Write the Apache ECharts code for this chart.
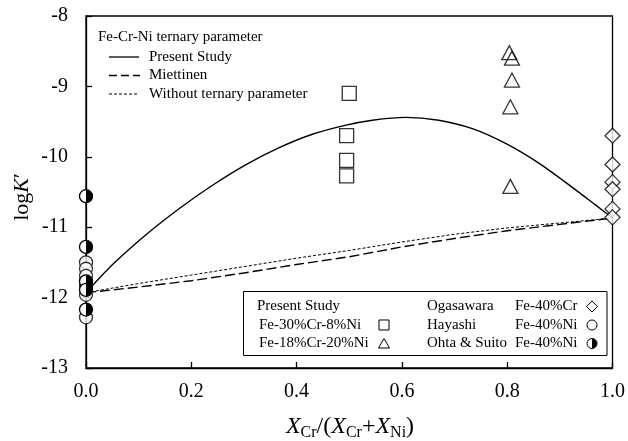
<!DOCTYPE html>
<html><head><meta charset="utf-8">
<script src="https://cdn.jsdelivr.net/npm/echarts@6/dist/echarts.min.js"></script>
<style>html,body{margin:0;padding:0;background:#fff}#c{width:628px;height:441px}</style>
</head><body><div id="c"></div>
<script>
// Curves
const curveX = [0.0, 0.052, 0.115, 0.178, 0.241, 0.304, 0.367, 0.430, 0.494, 0.544, 0.607, 0.670, 0.734, 0.797, 0.860, 0.923, 0.967, 1.0];
const presentY = [-11.93, -11.52, -11.10, -10.73, -10.40, -10.11, -9.87, -9.68, -9.55, -9.48, -9.44, -9.48, -9.60, -9.81, -10.09, -10.43, -10.68, -10.87];
const lineX = [0.0, 0.1, 0.2, 0.3, 0.4, 0.5, 0.6, 0.7, 0.8, 0.9, 1.0];
const miettinenY = [-11.93, -11.85, -11.76, -11.65, -11.53, -11.42, -11.28, -11.16, -11.05, -10.96, -10.87];
const withoutY = [-11.93, -11.80, -11.68, -11.56, -11.44, -11.33, -11.21, -11.10, -11.01, -10.94, -10.87];
// Scatter data
const sqX = [0.500, 0.495, 0.495, 0.495];
const sqY = [-9.10, -9.70, -10.05, -10.27];
const triX = [0.804, 0.809, 0.809, 0.806, 0.806];
const triY = [-8.52, -8.60, -8.91, -9.29, -10.42];
const diaX = [1.0, 1.0, 1.0, 1.0, 1.0, 1.0];
const diaY = [-9.70, -10.11, -10.36, -10.46, -10.74, -10.86];
const hayX = [0, 0, 0, 0, 0, 0];
const hayY = [-11.50, -11.59, -11.69, -11.83, -11.96, -12.28];
const ohtaX = [0, 0, 0, 0, 0];
const ohtaY = [-10.56, -11.28, -11.77, -11.89, -12.17];
// Axis ticks
const xTicks = ['0.0', '0.2', '0.4', '0.6', '0.8', '1.0'];
const yTicks = ['-13', '-12', '-11', '-10', '-9', '-8'];

const zip = (a, b) => a.map((v, i) => [v, b[i]]);
const F = 'Liberation Serif, Times New Roman, serif';
const mk = {color: '#fff', borderColor: '#000', borderWidth: 1.3};

const chart = echarts.init(document.getElementById('c'), null, {renderer: 'canvas'});
const lg = [];
const txt = (x, y, s, align) => ({type: 'text', x: x, y: y, style: {text: s, font: '15px ' + F, fill: '#000', textAlign: align || 'left', textVerticalAlign: 'middle'}});
lg.push(txt(98, 37, 'Fe-Cr-Ni ternary parameter'));
lg.push({type: 'line', shape: {x1: 109, y1: 57, x2: 139, y2: 57}, style: {stroke: '#000', lineWidth: 1.3}});
lg.push({type: 'line', shape: {x1: 109, y1: 75.5, x2: 140, y2: 75.5}, style: {stroke: '#000', lineWidth: 1.3, lineDash: [8, 4]}});
lg.push({type: 'line', shape: {x1: 109, y1: 94, x2: 139, y2: 94}, style: {stroke: '#000', lineWidth: 1, lineDash: [3, 2]}});
lg.push(txt(149, 57, 'Present Study'));
lg.push(txt(149, 75.5, 'Miettinen'));
lg.push(txt(149, 94, 'Without ternary parameter'));
// Legend box 2
lg.push({type: 'rect', shape: {x: 243.5, y: 291.5, width: 363.5, height: 64}, style: {fill: '#fff', stroke: '#000', lineWidth: 1}, z: 50});
const r1 = 306.5, r2 = 325, r3 = 343.5;
[[257, r1, 'Present Study'], [259, r2, 'Fe-30%Cr-8%Ni'], [259, r3, 'Fe-18%Cr-20%Ni'],
 [427, r1, 'Ogasawara'], [427, r2, 'Hayashi'], [427, r3, 'Ohta & Suito'],
 [515, r1, 'Fe-40%Cr'], [515, r2, 'Fe-40%Ni'], [515, r3, 'Fe-40%Ni']].forEach(t => { const e = txt(t[0], t[1], t[2]); e.z = 51; lg.push(e); });
const ls = {fill: '#fff', stroke: '#000', lineWidth: 1};
lg.push({type: 'rect', z: 51, shape: {x: 379, y: r2 - 5, width: 10, height: 10}, style: ls});
lg.push({type: 'polygon', z: 51, shape: {points: [[384, r3 - 5], [389.5, r3 + 4.5], [378.5, r3 + 4.5]]}, style: ls});
lg.push({type: 'polygon', z: 51, shape: {points: [[592, r1 - 5.5], [597.5, r1], [592, r1 + 5.5], [586.5, r1]]}, style: ls});
lg.push({type: 'circle', z: 51, shape: {cx: 592, cy: r2, r: 5}, style: ls});
lg.push({type: 'circle', z: 51, shape: {cx: 592, cy: r3, r: 5}, style: ls});
lg.push({type: 'sector', z: 52, shape: {cx: 592, cy: r3, r0: 0, r: 5, startAngle: -Math.PI / 2, endAngle: Math.PI / 2, clockwise: true}, style: {fill: '#000'}});
// Axis titles
lg.push({type: 'text', x: 350, y: 427, style: {
  text: '{i|X}{s|Cr}{n|/(}{i|X}{s|Cr}{n|+}{i|X}{s|Ni}{n|)}', textAlign: 'center', textVerticalAlign: 'middle',
  rich: {
    i: {fontFamily: F, fontSize: 24, fontStyle: 'italic', lineHeight: 28, fill: '#000'},
    n: {fontFamily: F, fontSize: 24, lineHeight: 28, fill: '#000'},
    s: {fontFamily: F, fontSize: 16, lineHeight: 16, verticalAlign: 'bottom', fill: '#000'}
  }}});
lg.push({type: 'text', x: 22, y: 197, rotation: Math.PI / 2, style: {
  text: '{n|log}{i|K}{n|\u2032}', textAlign: 'center', textVerticalAlign: 'middle',
  rich: {
    i: {fontFamily: F, fontSize: 22, fontStyle: 'italic', fill: '#000'},
    n: {fontFamily: F, fontSize: 22, fill: '#000'}
  }}});

const option = {
  animation: false,
  backgroundColor: '#fff',
  grid: {left: 86, right: 14, top: 16, bottom: 73, show: true, borderColor: '#000', borderWidth: 1.3, backgroundColor: 'transparent'},
  xAxis: {type: 'value', min: 0, max: 1, interval: 0.2,
    axisLine: {show: true, onZero: false, lineStyle: {color: '#000', width: 1.3}},
    axisTick: {show: true, inside: true, length: 6, lineStyle: {color: '#000', width: 1.3}},
    splitLine: {show: false},
    axisLabel: {color: '#000', fontFamily: F, fontSize: 20, margin: 14, formatter: v => xTicks[Math.round(v / 0.2)]}},
  yAxis: {type: 'value', min: -13, max: -8, interval: 1,
    axisLine: {show: true, onZero: false, lineStyle: {color: '#000', width: 1.3}},
    axisTick: {show: true, inside: true, length: 6, lineStyle: {color: '#000', width: 1.3}},
    splitLine: {show: false},
    axisLabel: {color: '#000', fontFamily: F, fontSize: 20, margin: 18, formatter: v => yTicks[Math.round(v + 13)]}},
  graphic: lg,
  series: [
    {type: 'line', data: zip(lineX, withoutY), symbol: 'none', lineStyle: {color: '#000', width: 1, type: [3, 2]}, z: 2},
    {type: 'line', data: zip(lineX, miettinenY), symbol: 'none', lineStyle: {color: '#000', width: 1.4, type: [10, 4]}, z: 2},
    {type: 'line', data: zip(curveX, presentY), symbol: 'none', smooth: 0.3, lineStyle: {color: '#000', width: 1.4}, z: 2},
    {type: 'scatter', data: zip(sqX, sqY), symbol: 'rect', symbolSize: 14, itemStyle: {color: 'transparent', borderColor: '#000', borderWidth: 1.3}, clip: false, z: 3},
    {type: 'scatter', data: zip(triX, triY), symbol: 'triangle', symbolSize: [15, 14], itemStyle: {color: 'transparent', borderColor: '#000', borderWidth: 1.3}, clip: false, z: 3},
    {type: 'scatter', data: zip(diaX, diaY), symbol: 'diamond', symbolSize: [15, 15], itemStyle: mk, clip: false, z: 3},
    {type: 'scatter', data: zip(hayX, hayY), symbol: 'circle', symbolSize: 13, itemStyle: mk, clip: false, z: 3},
    {type: 'custom', data: zip(ohtaX, ohtaY), clip: false, z: 4,
      renderItem: (params, api) => {
        const p = api.coord([api.value(0), api.value(1)]);
        return {type: 'group', children: [
          {type: 'circle', shape: {cx: p[0], cy: p[1], r: 6.5}, style: {fill: '#fff', stroke: '#000', lineWidth: 1.3}},
          {type: 'sector', shape: {cx: p[0], cy: p[1], r0: 0, r: 6.5, startAngle: -Math.PI / 2, endAngle: Math.PI / 2, clockwise: true}, style: {fill: '#000'}}
        ]};
      }}
  ]
};
chart.setOption(option);
</script></body></html>
